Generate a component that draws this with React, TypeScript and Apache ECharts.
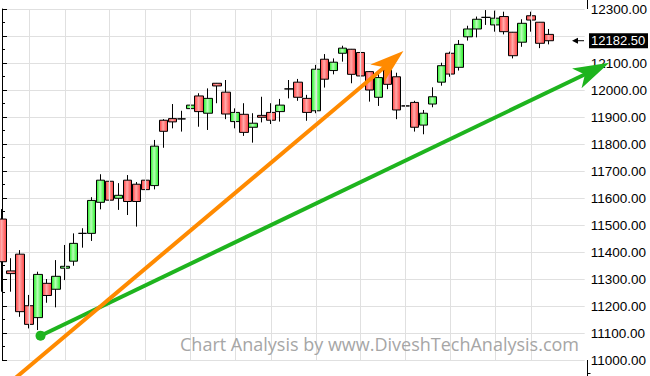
import React, { useEffect, useRef } from "react";
import * as echarts from "echarts";

// OHLC values (one entry per trading day)
const opens = [11522, 11330, 11392, 11201, 11157, 11284, 11262, 11340, 11366, 11469, 11469, 11584, 11662, 11599, 11666, 11651, 11666, 11646, 11888, 11894, 11893, 11931, 11978, 11914, 12025, 11992, 11883, 11910, 11862, 11906, 11917, 11920, 12004, 12029, 11969, 11923, 12114, 12072, 12136, 12151, 12139, 12068, 11973, 12074, 12049, 11941, 11954, 11870, 11948, 12029, 12136, 12084, 12197, 12226, 12269, 12241, 12272, 12214, 12177, 12275, 12251, 12206];
const closes = [11364, 11320, 11179, 11132, 11317, 11239, 11310, 11347, 11432, 11469, 11591, 11666, 11592, 11610, 11587, 11587, 11631, 11792, 11847, 11882, 11893, 11944, 11920, 11969, 12015, 11911, 11917, 11843, 11877, 11899, 11888, 11944, 12004, 11973, 11917, 12077, 12040, 12103, 12155, 12058, 12052, 12000, 12046, 12021, 11926, 11941, 11862, 11914, 11975, 12090, 12059, 12169, 12226, 12262, 12269, 12266, 12216, 12127, 12247, 12259, 12173, 12182.5];
const lows = [11253, 11253, 11160, 11117, 11111, 11212, 11195, 11296, 11349, 11416, 11441, 11558, 11574, 11556, 11537, 11494, 11607, 11632, 11786, 11858, 11846, 11907, 11864, 11852, 11951, 11892, 11858, 11830, 11805, 11880, 11874, 11883, 11969, 11960, 11886, 11914, 12009, 12058, 12105, 12025, 12044, 11957, 11941, 12003, 11892, 11889, 11846, 11836, 11936, 12016, 12049, 12072, 12183, 12195, 12241, 12216, 12206, 12117, 12160, 12216, 12155, 12169];
const highs = [11559, 11377, 11407, 11241, 11327, 11300, 11370, 11426, 11469, 11488, 11603, 11688, 11719, 11655, 11685, 11659, 11677, 11815, 11892, 11948, 11923, 11994, 11988, 12006, 12026, 12037, 11932, 11951, 11914, 11975, 11951, 11967, 12037, 12041, 11982, 12093, 12133, 12117, 12164, 12152, 12141, 12070, 12068, 12080, 12064, 12000, 11960, 11926, 12010, 12101, 12142, 12185, 12238, 12272, 12296, 12294, 12290, 12215, 12262, 12290, 12252, 12226];

// 62 trading days plus 4 empty slots reaching the price axis
const categories = Array.from({ length: 66 }, (_, i) => `Day ${i + 1}`);
// week separators (category indices)
const weekLines = [3, 7, 12, 16, 21, 26, 30, 35, 40, 45, 50, 55, 59];

const yMin = 11000;
const yMax = 12300;
const yStep = 100;
const hiddenTick = 12200; // covered by the last-price box
const lastPrice = 12182.5;
const lastPriceLabel = "12182.50";

// annotation arrows in data space: [dayIndex, price]
const orangeArrow = { from: [1.2, 10925], to: [44.78, 12144] };
const greenArrow = { from: [4.3, 11090], to: [67.74, 12101] };
const greenDot = [4.3, 11090];
const watermark = "Chart Analysis by www.DiveshTechAnalysis.com";

function arrowShape(x1: number, y1: number, x2: number, y2: number, len: number, half: number, notch: number) {
  const L = Math.hypot(x2 - x1, y2 - y1);
  const ux = (x2 - x1) / L, uy = (y2 - y1) / L;
  const nx = -uy, ny = ux;
  const bx = x2 - ux * len, by = y2 - uy * len;
  const notchX = x2 - ux * (len - notch), notchY = y2 - uy * (len - notch);
  return {
    head: [[x2, y2], [bx + nx * half, by + ny * half], [notchX, notchY], [bx - nx * half, by - ny * half]],
    lineEnd: [notchX + ux * 2, notchY + uy * 2],
  };
}

export default function App() {
  const ref = useRef<HTMLDivElement>(null);
  useEffect(() => {
    if (!ref.current) return;
    const chart = echarts.init(ref.current, undefined, { renderer: "svg" });
    const candleData = opens.map((o, i) => [o, closes[i], lows[i], highs[i]]);
    const green = new echarts.graphic.LinearGradient(0, 0, 1, 0, [
      { offset: 0, color: "#22ee22" },
      { offset: 0.45, color: "#b8ffb8" },
      { offset: 1, color: "#22ee22" },
    ]);
    const red = new echarts.graphic.LinearGradient(0, 0, 1, 0, [
      { offset: 0, color: "#ff3f3f" },
      { offset: 0.45, color: "#ffaaaa" },
      { offset: 1, color: "#ff3f3f" },
    ]);
    chart.setOption({
      animation: false,
      backgroundColor: "#ffffff",
      grid: { left: 2, right: 63, top: 9, bottom: 16, containLabel: false },
      xAxis: [
        {
          type: "category",
          data: categories,
          boundaryGap: false,
          axisLine: { show: false },
          axisTick: { show: false },
          axisLabel: { show: false },
          splitLine: { show: false },
        },
        { type: "value", min: 0, max: 65, show: false },
      ],
      yAxis: {
        type: "value",
        position: "right",
        min: yMin,
        max: yMax,
        interval: yStep,
        axisLine: { show: true, lineStyle: { color: "#000", width: 1 } },
        axisTick: { show: true, length: 5, lineStyle: { color: "#000" } },
        minorTick: { show: true, splitNumber: 2, length: 3, lineStyle: { color: "#000" } },
        axisLabel: {
          show: true,
          margin: 6,
          color: "#000",
          fontSize: 13.5,
          fontFamily: "Liberation Sans",
          formatter: (v: number) => (v === hiddenTick ? "" : v.toFixed(2)),
        },
        splitLine: { show: true, lineStyle: { color: "#e0e0e0", width: 1 } },
      },
      series: [
        {
          type: "line",
          data: [],
          z: 1,
          silent: true,
          markLine: {
            silent: true,
            symbol: ["none", "none"],
            label: { show: false },
            lineStyle: { color: "#e0e0e0", type: "solid", width: 1 },
            data: weekLines.map((i) => ({ xAxis: categories[i] })),
          },
        },
        {
          type: "candlestick",
          z: 3,
          clip: false,
          data: candleData,
          barWidth: 9,
          itemStyle: {
            color: green,
            color0: red,
            borderColor: "#000",
            borderColor0: "#000",
            borderColorDoji: "#000",
            borderWidth: 1,
          },
        },
      ],
    });

    const px = (p: number[]) => chart.convertToPixel({ xAxisIndex: 1, yAxisIndex: 0 }, p) as number[];
    const o1 = px(orangeArrow.from), o2 = px(orangeArrow.to);
    const g1 = px(greenArrow.from), g2 = px(greenArrow.to);
    const d = px(greenDot);
    const oa = arrowShape(o1[0], o1[1], o2[0], o2[1], 34, 11, 9);
    const ga = arrowShape(g1[0], g1[1], g2[0], g2[1], 36, 11, 9);
    const yPx = (v: number) => chart.convertToPixel({ yAxisIndex: 0 }, v) as number;
    const lastY = yPx(lastPrice);
    const topY = yPx(yMax);
    const botY = yPx(yMin);
    const belowTick = yPx(yMin - yStep / 2);
    const axisX = 587;
    const orange = "#ff8a00";
    const greenC = "#1eb41e";

    chart.setOption({
      graphic: [
        {
          type: "text",
          left: 180,
          top: 335,
          z: 50,
          style: {
            text: watermark,
            fill: "#a6a6a6",
            font: "18px 'Open Sans', sans-serif",
          },
        },
        // price axis continues past the grid edges
        { type: "line", z: 40, shape: { x1: axisX + 0.5, y1: 0, x2: axisX + 0.5, y2: topY }, style: { stroke: "#000", lineWidth: 1 } },
        { type: "line", z: 40, shape: { x1: axisX + 0.5, y1: botY, x2: axisX + 0.5, y2: 376 }, style: { stroke: "#000", lineWidth: 1 } },
        { type: "line", z: 40, shape: { x1: axisX + 0.5, y1: belowTick, x2: axisX + 3.5, y2: belowTick }, style: { stroke: "#000", lineWidth: 1 } },
        { type: "line", z: 60, shape: { x1: g1[0], y1: g1[1], x2: ga.lineEnd[0], y2: ga.lineEnd[1] }, style: { stroke: greenC, lineWidth: 4 } },
        { type: "polygon", z: 61, shape: { points: ga.head }, style: { fill: greenC } },
        { type: "circle", z: 62, shape: { cx: d[0], cy: d[1], r: 5 }, style: { fill: greenC } },
        { type: "line", z: 60, shape: { x1: o1[0], y1: o1[1], x2: oa.lineEnd[0], y2: oa.lineEnd[1] }, style: { stroke: orange, lineWidth: 4 } },
        { type: "polygon", z: 61, shape: { points: oa.head }, style: { fill: orange } },
        { type: "line", z: 70, shape: { x1: axisX - 10, y1: lastY, x2: axisX - 3, y2: lastY }, style: { stroke: "#000", lineWidth: 1 } },
        { type: "polygon", z: 70, shape: { points: [[axisX - 15, lastY], [axisX - 9, lastY - 3], [axisX - 9, lastY + 3]] }, style: { fill: "#000" } },
        { type: "rect", z: 80, shape: { x: 589, y: lastY - 7.5, width: 59, height: 15 }, style: { fill: "#000" } },
        {
          type: "text",
          z: 81,
          x: 591,
          y: lastY,
          style: {
            text: lastPriceLabel,
            fill: "#fff",
            font: "13px 'Liberation Sans', Arial, sans-serif",
            verticalAlign: "middle",
          },
        },
      ],
    });
    return () => chart.dispose();
  }, []);
  return (
    <div
      ref={ref}
      style={{ position: "fixed", left: 0, top: 0, width: 650, height: 376, background: "#fff" }}
    />
  );
}
